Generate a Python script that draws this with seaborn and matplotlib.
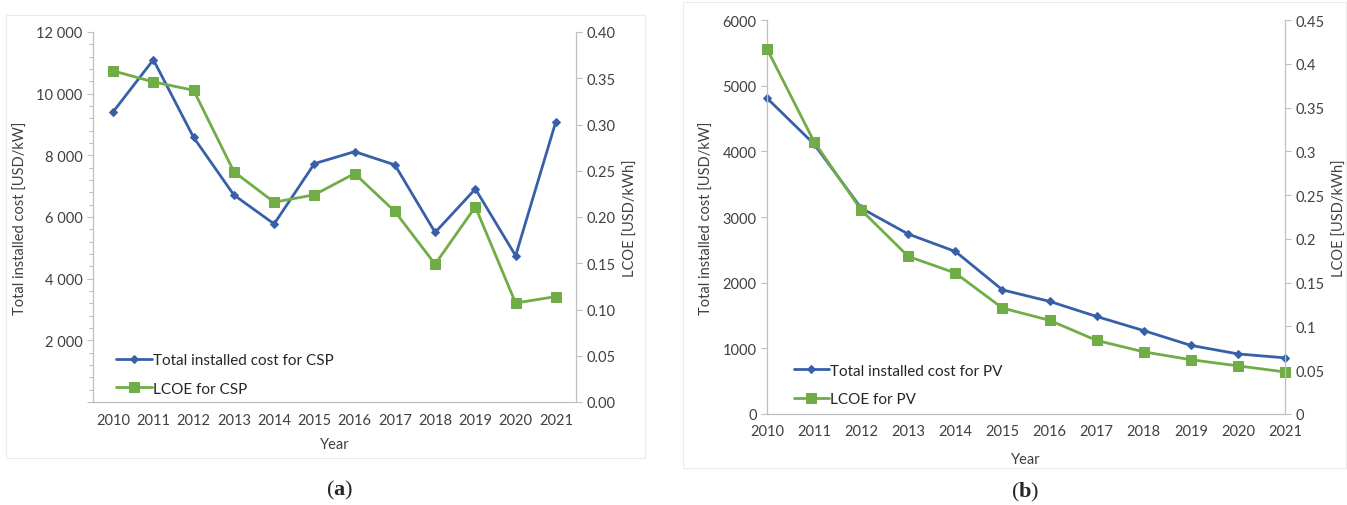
import matplotlib
matplotlib.use("Agg")
import matplotlib.pyplot as plt
import matplotlib.ticker as mticker
from matplotlib.patches import Rectangle
import seaborn as sns

years = [2010, 2011, 2012, 2013, 2014, 2015, 2016, 2017, 2018, 2019, 2020, 2021]

# (a) CSP
csp_cost = [9410, 11100, 8580, 6715, 5775, 7730, 8120, 7690, 5500, 6910, 4745, 9095]
csp_lcoe = [0.358, 0.346, 0.337, 0.249, 0.216, 0.224, 0.247, 0.206, 0.149, 0.211, 0.107, 0.114]

# (b) PV
pv_cost = [4810, 4110, 3135, 2740, 2475, 1890, 1715, 1485, 1270, 1045, 915, 855]
pv_lcoe = [0.417, 0.311, 0.233, 0.180, 0.161, 0.121, 0.107, 0.084, 0.071, 0.062, 0.055, 0.048]

BLUE = "#3760A8"
GREEN = "#70AD47"
GRAY = "#BFBFBF"
TXT = "#404040"

sns.set_style("white")
plt.rcParams["font.family"] = ["Lato", "DejaVu Sans"]
plt.rcParams["mathtext.fontset"] = "custom"
plt.rcParams["mathtext.bf"] = "Liberation Serif:bold"
plt.rcParams["mathtext.rm"] = "Liberation Serif"

fig = plt.figure(figsize=(13.47, 5.06), dpi=100)

# panel borders
fig.patches.append(Rectangle((6 / 1347, 1 - 459 / 506), 639 / 1347, 443 / 506,
                             transform=fig.transFigure, fill=False, ec="#EBEBEB", lw=0.8))
fig.patches.append(Rectangle((683 / 1347, 1 - 469 / 506), 663 / 1347, 466 / 506,
                             transform=fig.transFigure, fill=False, ec="#EBEBEB", lw=0.8))


def style_axes(ax, ax2):
    for a in (ax, ax2):
        for s in a.spines.values():
            s.set_visible(False)
        a.tick_params(colors=GRAY, labelcolor=TXT, labelsize=10.5, length=4, width=0.8)
    ax.spines["left"].set_visible(True)
    ax.spines["bottom"].set_visible(True)
    ax2.spines["right"].set_visible(True)
    for s in (ax.spines["left"], ax.spines["bottom"], ax2.spines["right"]):
        s.set_color(GRAY)
        s.set_linewidth(0.9)


# ---------- (a) CSP ----------
ax = fig.add_axes([93 / 1347, 1 - 403 / 506, 483 / 1347, 370 / 506])
ax2 = ax.twinx()
sns.lineplot(x=years, y=csp_cost, ax=ax, color=BLUE, marker="D", markersize=4.5,
             markeredgecolor=BLUE, linewidth=2, label="Total installed cost for CSP", legend=False)
sns.lineplot(x=years, y=csp_lcoe, ax=ax2, color=GREEN, marker="s", markersize=7,
             markeredgecolor=GREEN, linewidth=2, label="LCOE for CSP", legend=False)
ax.set_xlim(2009.5, 2021.5)
ax.set_ylim(0, 12000)
ax2.set_ylim(0, 0.40)
ax.set_yticks(range(0, 12001, 2000))
ax.yaxis.set_minor_locator(mticker.MultipleLocator(400))
ax.yaxis.set_major_formatter(mticker.FuncFormatter(
    lambda v, p: "" if v == 0 else f"{v:,.0f}".replace(",", " ")))
ax2.set_yticks([i * 0.05 for i in range(9)])
ax2.yaxis.set_major_formatter(mticker.FormatStrFormatter("%.2f"))
ax.set_xticks(years)
ax.set_xticks([y + 0.5 for y in [2009] + years], minor=True)
style_axes(ax, ax2)
ax.tick_params(axis="x", which="major", length=0, pad=8)
ax.tick_params(axis="x", which="minor", length=4, color=GRAY)
ax.tick_params(axis="y", which="minor", length=3, color=GRAY, width=0.8)
ax.set_xlabel("Year", fontsize=10.5, color=TXT, labelpad=7)
ax.set_ylabel("Total installed cost [USD/kW]", fontsize=10.5, color=TXT, labelpad=6)
ax2.set_ylabel("LCOE [USD/kWh]", fontsize=10.5, color=TXT, labelpad=6)
h1, l1 = ax.get_legend_handles_labels()
h2, l2 = ax2.get_legend_handles_labels()
ax.legend(h1 + h2, l1 + l2, loc="lower left", bbox_to_anchor=(0.02, -0.02), frameon=False,
          fontsize=11, handlelength=2.3, handletextpad=0.1, labelspacing=0.95)
fig.text(340 / 1347, 1 - 490 / 506, r"($\mathbf{a}$)", ha="center", va="center",
         fontsize=16, family="Liberation Serif")

# ---------- (b) PV ----------
bx = fig.add_axes([767 / 1347, 1 - 415 / 506, 518 / 1347, 394 / 506])
bx2 = bx.twinx()
sns.lineplot(x=years, y=pv_cost, ax=bx, color=BLUE, marker="D", markersize=4.5,
             markeredgecolor=BLUE, linewidth=2, label="Total installed cost for PV", legend=False)
sns.lineplot(x=years, y=pv_lcoe, ax=bx2, color=GREEN, marker="s", markersize=7,
             markeredgecolor=GREEN, linewidth=2, label="LCOE for PV", legend=False)
bx.set_xlim(2010, 2021)
bx.set_ylim(0, 6000)
bx2.set_ylim(0, 0.45)
bx.set_yticks(range(0, 6001, 1000))
bx2.set_yticks([i * 0.05 for i in range(10)])
bx2.yaxis.set_major_formatter(mticker.FuncFormatter(lambda v, p: f"{round(v, 2):g}"))
bx.set_xticks(years)
style_axes(bx, bx2)
bx.set_xlabel("Year", fontsize=10.5, color=TXT, labelpad=10)
bx.set_ylabel("Total installed cost [USD/kW]", fontsize=10.5, color=TXT, labelpad=6)
bx2.set_ylabel("LCOE [USD/kWh]", fontsize=10.5, color=TXT, labelpad=6)
h1, l1 = bx.get_legend_handles_labels()
h2, l2 = bx2.get_legend_handles_labels()
bx.legend(h1 + h2, l1 + l2, loc="lower left", bbox_to_anchor=(0.025, -0.015), frameon=False,
          fontsize=11, handlelength=2.3, handletextpad=0.1, labelspacing=0.95)
fig.text(1025 / 1347, 1 - 492 / 506, r"($\mathbf{b}$)", ha="center", va="center",
         fontsize=16, family="Liberation Serif")

for a in (ax, ax2, bx, bx2):
    for line in a.lines:
        line.set_clip_on(False)

fig.savefig("out.png", dpi=100, facecolor="white")
